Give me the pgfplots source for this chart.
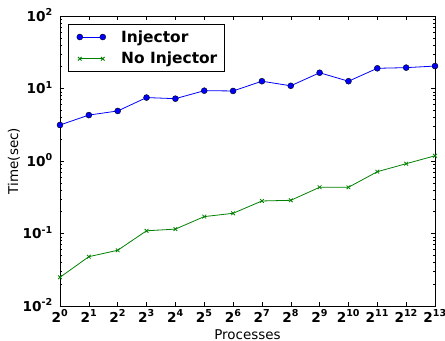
\documentclass[border=0pt]{standalone}
\usepackage{pgfplots}
\pgfplotsset{compat=1.18}
\usepackage{fontspec}
\setmainfont{DejaVu Sans}
\begin{document}
\begin{tikzpicture}
\begin{axis}[
  name=ax,
  scale only axis,
  width=375bp, height=290bp,
  ymode=log,
  xmin=0, xmax=13,
  ymin=0.01, ymax=100,
  xtick={0,...,13},
  xticklabels={2\textsuperscript{0},2\textsuperscript{1},2\textsuperscript{2},2\textsuperscript{3},2\textsuperscript{4},2\textsuperscript{5},2\textsuperscript{6},2\textsuperscript{7},2\textsuperscript{8},2\textsuperscript{9},2\textsuperscript{10},2\textsuperscript{11},2\textsuperscript{12},2\textsuperscript{13}},
  ytick={0.01,0.1,1,10,100},
  yticklabels={10\textsuperscript{-2},10\textsuperscript{-1},10\textsuperscript{0},10\textsuperscript{1},10\textsuperscript{2}},
  ticklabel style={font=\fontsize{13.7}{16}\selectfont\bfseries, inner sep=0pt},
  xticklabel style={anchor=base, yshift=-16bp},
  yticklabel style={anchor=base east, yshift=-5bp, xshift=-7bp},
  tick align=inside,
  major tick length=4bp,
  minor tick length=2bp,
  tick style={black, line width=0.5pt},
  axis line style={black, line width=0.8pt},
  xlabel={Processes},
  ylabel={Time(sec)},
  every axis x label/.style={at={(axis description cs:0.5,-0.1138)}, anchor=base, font=\fontsize{13.5}{16}\selectfont},
  every axis y label/.style={at={(axis description cs:-0.1227,0.5)}, rotate=90, anchor=center, font=\fontsize{13.5}{16}\selectfont},
  legend style={at={(0.0213,0.9724)}, anchor=north west, draw=black, line width=0.8pt,
    font=\fontsize{15.5}{18}\selectfont\bfseries, inner xsep=7bp, inner ysep=6bp,
    row sep=8.5bp, nodes={inner sep=0pt}, cells={anchor=west}},
  legend image code/.code={
    \draw[#1] plot coordinates {(0bp,0bp) (23bp,0bp)};
    \path (-4bp,0bp) (41bp,0bp);
  },
]
\addplot[color={rgb,255:red,0;green,0;blue,255}, line width=0.8pt, mark=*, mark size=3bp,
  mark options={fill={rgb,255:red,0;green,0;blue,255}, draw=black, line width=0.4pt}]
coordinates {
(0,3.14) (1,4.3) (2,4.9) (3,7.5) (4,7.24) (5,9.33) (6,9.25) (7,12.6) (8,10.9) (9,16.5) (10,12.6) (11,19.0) (12,19.4) (13,20.4)
};
\addlegendentry{Injector}
\addplot[color={rgb,255:red,0;green,128;blue,0}, line width=0.8pt, mark=x, mark size=2.6bp,
  mark options={line width=0.8pt}]
coordinates {
(0,0.0249) (1,0.0479) (2,0.0587) (3,0.109) (4,0.115) (5,0.171) (6,0.190) (7,0.281) (8,0.287) (9,0.434) (10,0.434) (11,0.712) (12,0.918) (13,1.18)
};
\addlegendentry{No Injector}
\end{axis}
\pgfresetboundingbox
\path[use as bounding box] ([shift={(-60bp,-35bp)}]ax.south west) rectangle ([shift={(10bp,16bp)}]ax.north east);
\end{tikzpicture}
\end{document}
